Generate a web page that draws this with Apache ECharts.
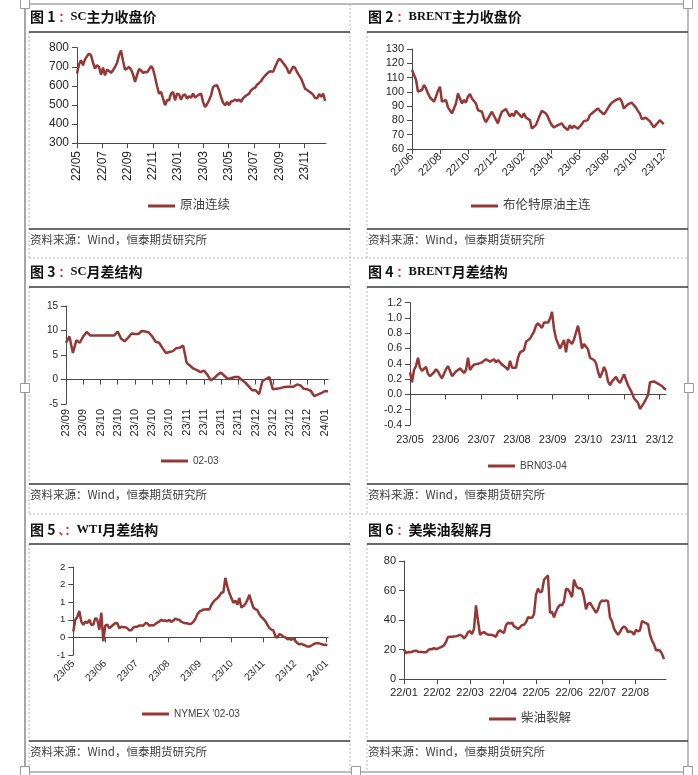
<!DOCTYPE html>
<html><head><meta charset="utf-8">
<script src="https://cdn.jsdelivr.net/npm/echarts@6/dist/echarts.min.js"></script>
<style>html,body{margin:0;padding:0;background:#fff;}#c{width:698px;height:775px;}</style>
</head><body><div id="c"></div>
<script>
// ---------- DATA ----------
const p1Name = '原油连续';
const p1Ticks = ['22/05','22/07','22/09','22/11','23/01','23/03','23/05','23/07','23/09','23/11'];
const p1Months = 19.63; // span of the series in months from 22/05
const p1Values = [664,713,734,708,739,755,769,760,721,690,
708,699,659,696,655,685,678,668,681,699,
720,760,786,730,685,690,699,685,660,620,
656,688,681,668,673,671,685,704,688,646,
598,559,568,533,498,524,524,559,568,524,
559,555,527,550,555,533,545,538,559,538,
547,554,559,516,489,503,524,550,594,601,
603,577,541,511,498,516,498,518,520,528,
521,528,516,535,545,552,559,577,585,590,
606,615,625,641,653,664,674,676,673,699,
723,742,734,720,706,690,664,681,701,694,
671,655,638,612,585,578,570,563,554,536,
535,557,542,559,521];

const p2Name = '布伦特原油主连';
const p2Ticks = ['22/06','22/08','22/10','22/12','23/02','23/04','23/06','23/08','23/10','23/12'];
const p2Months = 18.04;
const p2Values = [115.3,114.1,108.5,100.1,100.8,101.3,104.8,102.4,98.9,96.1,
95.4,93.1,96.6,100.8,103.6,93.1,92.4,94.3,89.1,88.4,
84.9,83.7,91.9,98.9,97.8,91.9,94.3,92.4,96.6,98.5,
95.4,94.3,91.9,87.2,86.1,86.1,81.4,78.8,80.2,83.7,
86.1,83.3,82.6,77.9,82.6,86.1,86.8,88.0,87.2,82.6,
84.9,83.0,86.8,85.6,83.7,82.1,84.9,82.1,82.6,80.2,
74.4,74.4,76.7,80.2,83.7,86.8,87.2,84.9,82.6,79.1,
76.7,75.1,74.4,76.7,75.6,77.9,75.6,76.7,73.2,76.7,
74.4,76.3,75.6,74.2,75.1,77.4,79.5,80.9,80.2,83.7,
84.9,86.1,87.2,88.4,86.8,85.6,84.2,86.1,88.4,90.7,
92.4,93.1,94.3,94.3,95.4,93.1,88.4,87.7,91.2,92.6,
92.4,91.2,89.1,86.8,84.9,80.9,82.1,81.9,81.4,79.5,
78.4,75.1,75.6,78.4,80.2,81.4,77.4];

const p3Name = '02-03';
const p3Ticks = ['23/09','23/09','23/10','23/10','23/10','23/10','23/10','23/11','23/11','23/11','23/11','23/12','23/12','23/12','23/12','24/01'];
const p3Values = [7.5,8.8,5.4,8.0,7.5,8.8,9.7,9.0,9.0,9.0,
9.0,9.0,9.0,9.0,9.0,9.8,8.3,7.8,8.5,9.4,
9.3,9.3,9.9,9.8,9.6,8.8,7.7,7.5,6.4,5.4,
5.6,5.8,6.4,6.5,6.9,3.4,2.8,2.2,1.9,1.5,
1.8,1.0,-0.2,0.3,1.0,1.4,0.7,0.1,0.3,0.5,
0.5,-0.1,-0.6,-1.4,-2.2,-2.2,-3.0,-0.3,0.1,0.5,
-2.0,-1.9,-1.8,-1.6,-1.5,-1.5,-1.5,-1.0,-1.2,-1.9,
-2.0,-2.3,-3.4,-3.1,-2.8,-2.4,-2.4];

const p4Name = 'BRN03-04';
const p4Ticks = ['23/05','23/06','23/07','23/08','23/09','23/10','23/11','23/12'];
const p4Months = 7.18;
const p4Values = [0.29,0.16,0.32,0.37,0.48,0.35,0.31,0.32,0.36,0.27,
0.24,0.26,0.29,0.33,0.30,0.25,0.21,0.19,0.33,0.37,
0.31,0.24,0.26,0.30,0.30,0.34,0.33,0.28,0.32,0.48,
0.32,0.36,0.39,0.40,0.40,0.42,0.42,0.42,0.46,0.46,
0.43,0.44,0.46,0.42,0.45,0.45,0.39,0.37,0.35,0.32,
0.44,0.35,0.37,0.35,0.48,0.55,0.54,0.58,0.69,0.71,
0.73,0.74,0.82,0.90,0.93,0.95,0.87,0.94,0.92,0.94,
0.99,1.08,0.86,0.73,0.71,0.60,0.60,0.71,0.55,0.72,
0.70,0.66,0.72,0.81,0.90,0.76,0.60,0.66,0.64,0.59,
0.48,0.50,0.45,0.41,0.30,0.22,0.28,0.36,0.30,0.17,
0.12,0.17,0.19,0.23,0.18,0.15,0.17,0.26,0.24,0.12,
0.10,0.02,-0.05,-0.07,-0.11,-0.19,-0.15,-0.11,-0.06,-0.01,
0.16,0.18,0.17,0.18,0.14,0.15,0.11,0.08,0.06];

const p5Name = "NYMEX '02-03";
const p5Ticks = ['23/05','23/06','23/07','23/08','23/09','23/10','23/11','23/12','24/01'];
const p5Months = 8.02;
const p5Values = [0.17,0.50,0.58,0.75,0.45,0.36,0.45,0.41,0.50,0.36,
0.36,0.55,0.50,0.22,0.70,-0.11,0.34,0.36,0.26,0.31,
0.36,0.41,0.40,0.26,0.30,0.29,0.29,0.26,0.20,0.20,
0.28,0.30,0.30,0.34,0.34,0.33,0.40,0.40,0.33,0.35,
0.34,0.38,0.42,0.45,0.50,0.47,0.48,0.46,0.50,0.44,
0.48,0.53,0.51,0.50,0.44,0.42,0.40,0.40,0.38,0.39,
0.44,0.52,0.66,0.73,0.76,0.79,0.79,0.80,0.79,0.92,
1.01,1.07,1.11,1.18,1.27,1.28,1.69,1.45,1.26,1.12,
0.98,1.05,0.93,1.12,0.85,0.89,0.95,1.06,1.21,1.02,
0.85,0.80,0.78,0.66,0.58,0.53,0.46,0.36,0.27,0.22,
0.20,0.04,-0.01,0.09,0.07,0.02,0.00,-0.05,-0.04,-0.07,
-0.02,-0.10,-0.16,-0.20,-0.18,-0.21,-0.23,-0.26,-0.26,-0.23,
-0.20,-0.17,-0.16,-0.17,-0.19,-0.21,-0.21,-0.22];

const p6Name = '柴油裂解';
const p6Ticks = ['22/01','22/02','22/03','22/04','22/05','22/06','22/07','22/08'];
const p6Months = 7.87;
const p6Values = [19.9,17.6,18.3,18.1,18.5,19.0,19.2,18.5,18.3,18.3,
18.1,18.1,19.4,20.3,20.1,21.0,20.3,20.7,21.3,21.9,
22.9,25.1,28.5,28.6,28.6,28.8,28.9,29.4,29.9,29.3,
27.4,29.1,31.8,32.4,30.5,34.0,49.9,39.5,30.0,31.2,
31.8,30.7,30.0,30.0,29.8,29.4,28.6,31.9,33.0,31.9,
31.2,36.5,38.2,37.5,38.2,35.7,35.0,33.8,35.1,36.5,
36.8,38.5,41.8,41.5,41.5,44.0,57.0,61.3,58.8,59.4,
67.3,68.8,70.2,44.9,45.6,41.8,45.8,48.5,50.3,49.9,
52.6,61.2,60.7,58.5,55.5,67.3,63.4,61.6,61.6,60.7,
55.5,47.2,51.0,51.7,49.4,47.2,44.9,47.2,51.7,53.3,
52.8,53.3,52.8,41.8,39.1,34.1,31.8,30.0,31.8,34.5,
35.7,34.5,31.8,32.3,31.8,30.0,33.4,32.3,33.0,39.3,
38.5,37.8,37.2,30.0,26.0,23.5,19.5,19.6,19.3,17.0,13.5];

const titles = [
  ['图 1 ', '：', 'SC', '主力收盘价'],
  ['图 2 ', '：', 'BRENT', '主力收盘价'],
  ['图 3 ', '：', 'SC', '月差结构'],
  ['图 4 ', '：', 'BRENT', '月差结构'],
  ['图 5 ', '、：', 'WTI', '月差结构'],
  ['图 6 ', '：', '', '美柴油裂解月']
];
const sourceText = '资料来源：Wind，恒泰期货研究所';

// ---------- LAYOUT / STYLE ----------
const AX = '#4a4a4a', LAB = '#262626', RED = '#953735';
const FONT = '"Liberation Sans","Noto Sans CJK SC",sans-serif';
const CJK = '"Noto Sans CJK SC"';

const P = [
 {grid:[77,47.7,249,95.3], y:[300,800,100], yfs:12, xmax:19.7, ticks:p1Ticks, step:2, span:p1Months, vals:p1Values, rot:90, xfs:12, xm:8, zero:false, name:p1Name, lg:[148,207,12.5]},
 {grid:[412,49,254,100], y:[60,130,10], yfs:11, xmax:18.2, ticks:p2Ticks, step:2, span:p2Months, vals:p2Values, rot:45, xfs:11, xm:6, zero:false, name:p2Name, lg:[471,207,12.5]},
 {grid:[66,306,262,98], y:[-5,15,5], yfs:10, xmax:76, ticks:p3Ticks, step:5, span:p3Values.length-1, vals:p3Values, rot:90, xfs:11, xm:5, zero:true, name:p3Name, lg:[161,462,10]},
 {grid:[410,302.7,256,122.3], y:[-0.4,1.2,0.2], yfs:10.5, yfmt:v=>v.toFixed(1), xmax:7.18, ticks:p4Ticks, step:1, span:p4Months, vals:p4Values, rot:0, xfs:11, xm:9, zero:true, name:p4Name, lg:[488,467,10]},
 {grid:[73.3,567,254.7,88], y:[-0.5,2,0.5], yfs:9.5, yfmt:v=>v.toFixed(0), xmax:8.04, ticks:p5Ticks, step:1, span:p5Months, vals:p5Values, rot:45, xfs:10, xm:7, zero:true, name:p5Name, lg:[142,715,10]},
 {grid:[404,561,262,118], y:[0,80,20], yfs:11, xmax:7.93, ticks:p6Ticks, step:1, span:p6Months, vals:p6Values, rot:0, xfs:11, xm:8, zero:false, name:p6Name, lg:[489,720,12.5]}
];

const grids=[], xAxes=[], yAxes=[], series=[], legends=[];
P.forEach((p,i)=>{
  grids.push({left:p.grid[0], top:p.grid[1], width:p.grid[2], height:p.grid[3]});
  yAxes.push({gridIndex:i, type:'value', min:p.y[0], max:p.y[1], interval:p.y[2],
    axisLine:{show:true,onZero:false,lineStyle:{color:AX,width:1}},
    axisTick:{show:true,length:5,lineStyle:{color:AX}},
    splitLine:{show:false},
    axisLabel:{fontSize:p.yfs,color:LAB,margin:8,fontFamily:FONT,formatter:p.yfmt}});
  const cv = p.ticks.map((t,k)=>k*p.step);
  const fmt = v => p.ticks[Math.round(v/p.step)] || '';
  const xi = xAxes.length;
  xAxes.push({gridIndex:i, type:'value', position:'bottom', min:0, max:p.xmax, splitLine:{show:false},
    axisLine:{show:!p.zero,onZero:false,lineStyle:{color:AX,width:1}},
    axisTick:{show:!p.zero,length:5,customValues:cv,lineStyle:{color:AX}},
    axisLabel:{customValues:cv,formatter:fmt,rotate:p.rot,fontSize:p.xfs,color:LAB,margin:p.xm,fontFamily:FONT}});
  if (p.zero) xAxes.push({gridIndex:i, type:'value', position:'top', min:0, max:p.xmax, splitLine:{show:false},
    axisLine:{show:true,onZero:true,lineStyle:{color:AX,width:1}},
    axisTick:{show:true,inside:true,length:5,customValues:cv,lineStyle:{color:AX}},
    axisLabel:{show:false}});
  series.push({type:'line', name:p.name, xAxisIndex:xi, yAxisIndex:i,
    data:p.vals.map((v,k)=>[k*p.span/(p.vals.length-1), v]),
    showSymbol:false, symbol:'none', lineStyle:{color:RED,width:2.5}, itemStyle:{color:RED}, animation:false});
  legends.push({data:[p.name], left:p.lg[0], top:p.lg[1]-p.lg[2]/2-1, padding:0, itemWidth:27, itemHeight:3,
    icon:'rect', selectedMode:false, textStyle:{fontSize:p.lg[2], color:'#404040', fontFamily:FONT}});
});

// ---------- PAGE DECORATION ----------
const deco=[];
function L(x1,y1,x2,y2,stroke,w,dash){deco.push({type:'line',silent:true,shape:{x1,y1,x2,y2},style:{stroke,lineWidth:w,lineDash:dash||null}});}
const DG='#b8b8b8';
L(350,4,350,772,DG,1,[2,2]);
L(29,258,688,258,DG,1,[2,2]);
L(29,514,688,514,DG,1,[2,2]);
[[32,258],[287,514],[544,772]].forEach(s=>{L(29,s[0],29,s[1],DG,1,[2,2]);L(367,s[0],367,s[1],DG,1,[2,2]);});
L(25,4,688,4,'#a6a6a6',1.5);
L(25,0,25,775,'#a6a6a6',2);
L(688,0,688,775,'#a6a6a6',1.5);
L(25,772,688,772,'#a6a6a6',1.5);
[[32,229],[287,484],[544,741]].forEach(r=>{
  L(29,r[0],350,r[0],'#3a3a3a',1.5); L(367,r[0],688,r[0],'#3a3a3a',1.5);
  L(29,r[1],350,r[1],'#3a3a3a',1.5); L(367,r[1],688,r[1],'#3a3a3a',1.5);
});
[[25,4],[688,4],[25,388],[689,388],[25,771],[356,771],[688,771]].forEach(h=>{
  deco.push({type:'rect',silent:true,shape:{x:h[0]-4.5,y:h[1]-4.5,width:9,height:9},style:{fill:'#fff',stroke:'#9a9a9a',lineWidth:1}});
});
const tpos=[[30,17],[368,17],[30,272],[368,272],[30,530],[368,530]];
const spos=[240,240,495,495,752,752];
titles.forEach((t,i)=>{
  let txt='{a|'+t[0]+'}{r|'+t[1]+'}'+(t[2]?'{b|'+t[2]+'}':'')+'{c|'+t[3]+'}';
  deco.push({type:'text',silent:true,x:tpos[i][0],y:tpos[i][1],style:{text:txt,verticalAlign:'middle',
    rich:{a:{fontFamily:CJK,fontWeight:'bold',fontSize:14,fill:'#111',verticalAlign:'middle'},
          r:{fontFamily:CJK,fontWeight:'bold',fontSize:12,fill:'#e0302c',verticalAlign:'middle'},
          b:{fontFamily:'"Liberation Serif"',fontWeight:'bold',fontSize:12.5,fill:'#111',verticalAlign:'middle'},
          c:{fontFamily:CJK,fontWeight:'bold',fontSize:14,fill:'#111',verticalAlign:'middle'}}}});
  deco.push({type:'text',silent:true,x:tpos[i][0],y:spos[i],style:{text:sourceText,verticalAlign:'middle',fontFamily:CJK,fontSize:11.5,fill:'#3c3c3c'}});
});

const chart = echarts.init(document.getElementById('c'));
chart.setOption({
  animation:false,
  textStyle:{fontFamily:FONT},
  grid:grids, xAxis:xAxes, yAxis:yAxes, series:series, legend:legends,
  graphic:deco
});
</script></body></html>
